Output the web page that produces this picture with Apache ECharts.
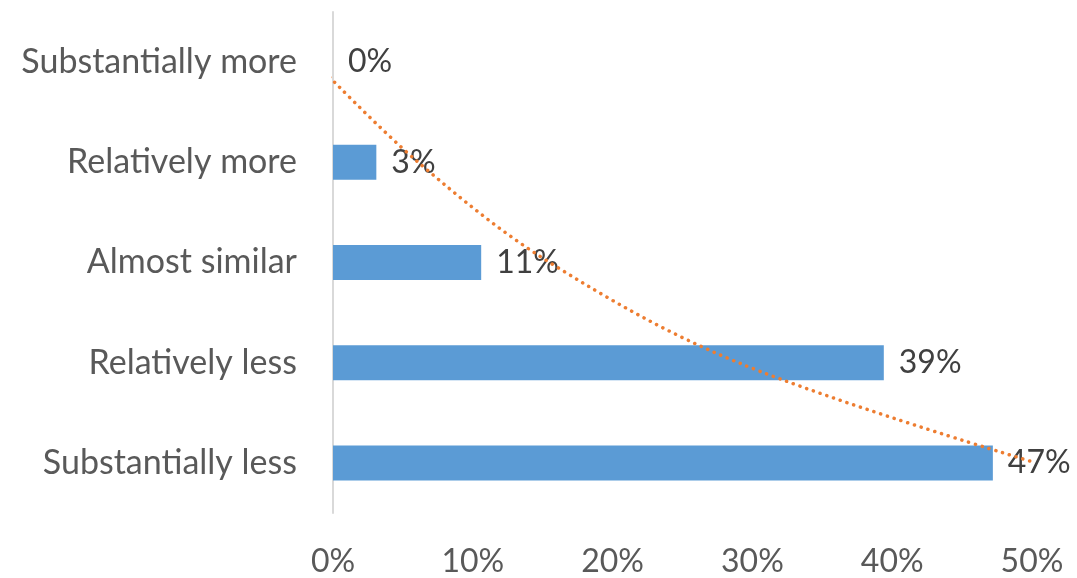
<!DOCTYPE html>
<html>
<head>
<meta charset="utf-8">
<script src="https://cdn.jsdelivr.net/npm/echarts@6/dist/echarts.min.js"></script>
<style>
  html, body { margin: 0; padding: 0; background: #fff; }
  #main { width: 1077px; height: 578px; }
</style>
</head>
<body>
<div id="main"></div>
<script>
var categories = ['Substantially more', 'Relatively more', 'Almost similar', 'Relatively less', 'Substantially less'];
var shareValues = [0, 3.1, 10.6, 39.4, 47.2];
var shareLabels = ['0%', '3%', '11%', '39%', '47%'];
// trendline (clipped to 0..50)
var trendValues = [-1.3, 6.1, 15.5, 29.0, 50.3];
var tickValues = [0, 10, 20, 30, 40, 50];

var chartDom = document.getElementById('main');
var myChart = echarts.init(chartDom);
var option;
var fontName = 'Lato';

option = {
    animation: false,
    grid: {
        left: 333,
        right: 45,
        top: 12,
        bottom: 65
    },
    xAxis: {
        type: 'value',
        min: tickValues[0],
        max: tickValues[tickValues.length - 1],
        interval: 10,
        axisLine: { show: false },
        axisTick: { show: false },
        splitLine: { show: false },
        axisLabel: {
            formatter: '{value}%',
            margin: 33,
            color: '#595959',
            fontSize: 32,
            fontFamily: fontName
        }
    },
    yAxis: {
        type: 'category',
        inverse: true,
        data: categories,
        axisLine: { show: true, lineStyle: { color: '#d9d9d9', width: 2 } },
        axisTick: { show: false },
        axisLabel: {
            margin: 36,
            color: '#595959',
            fontSize: 34,
            fontFamily: fontName
        }
    },
    series: [
        {
            name: 'Share',
            type: 'bar',
            data: shareValues,
            barWidth: 35,
            itemStyle: { color: '#5B9BD5' },
            label: {
                show: true,
                position: 'right',
                distance: 15,
                color: '#404040',
                fontSize: 32,
                fontFamily: fontName,
                formatter: function (params) {
                    return shareLabels[params.dataIndex];
                }
            },
            z: 2
        },
        {
            name: 'Trend',
            type: 'line',
            data: trendValues,
            smooth: 0.35,
            symbol: 'none',
            clip: true,
            lineStyle: {
                color: '#ED7D31',
                width: 3.5,
                type: [0.1, 7],
                cap: 'round'
            },
            z: 3
        }
    ]
};

option && myChart.setOption(option);
</script>
</body>
</html>
